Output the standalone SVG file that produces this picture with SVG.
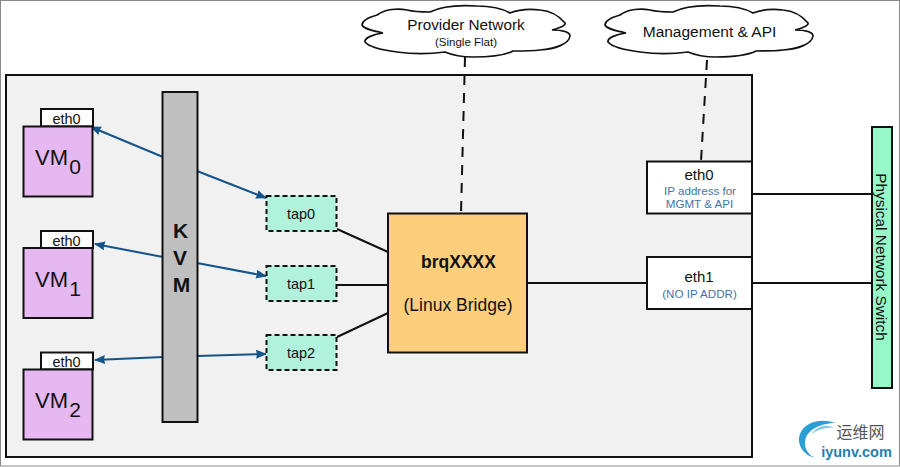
<svg xmlns="http://www.w3.org/2000/svg" width="900" height="467" viewBox="0 0 900 467">
<style>
text{font-family:"Liberation Sans",Arial,"Noto Sans CJK SC",sans-serif;text-anchor:middle;fill:#111}
.b{stroke:#111;stroke-width:2}
.vm{fill:#e5b8f2}
.eth{fill:#fff}
.tap{fill:#b0f2dc;stroke:#111;stroke-width:2;stroke-dasharray:5 3}
.l{stroke:#111;stroke-width:2;fill:none}
.d{stroke:#111;stroke-width:2;fill:none;stroke-dasharray:10 8}
.a{stroke:#14548a;stroke-width:2;fill:none}
.blue{fill:#3f73a8}
.cloud{fill:#fff;stroke:#111;stroke-width:1.7}
</style>
<defs>
<marker id="ar" viewBox="0 0 11 9" refX="10" refY="4.500" markerWidth="11" markerHeight="9" markerUnits="userSpaceOnUse" orient="auto-start-reverse"><path d="M0 0L11 4.500L0 9L1 4.500Z" fill="#14548a"/></marker>
<path id="cl" d="M377 15C385 9 398 8 407 10C415 12 424 12 430 12C442 6 462 5 477 6C490 6 503 9 510 13C520 9 532 9 540 10C552 11 560 17 565 23C566 26 556 29 552 30C562 30 570 32 570 36C569 44 555 49 540 50C532 51 522 51 513 51C503 56 488 57 473 57C460 57 452 55 445 52C430 54 412 54 397 52C382 50 369 47 365 42C364 38 374 34 383 33C373 31 364 29 362 25C362 20 370 17 377 15Z"/>
</defs>
<rect x="0.500" y="0.500" width="899" height="465.500" fill="#fff" stroke="#8a8a8a" stroke-width="1"/>
<rect id="host" x="6" y="75" width="746" height="382" fill="#f1f1f1" stroke="#111" stroke-width="2"/>
<g id="connectors">
<path class="d" d="M465 57L461 213"/>
<path class="d" d="M707 60L701 161"/>
<path class="l" d="M337 229L388 252M337 285H388M337 337L388 313M527 283H647M752 194H871M752 283H871"/>
<path class="a" marker-start="url(#ar)" d="M91 127L163 157"/>
<path class="a" marker-end="url(#ar)" d="M197 171L266 198"/>
<path class="a" marker-start="url(#ar)" d="M95 244L163 257"/>
<path class="a" marker-end="url(#ar)" d="M197 263L266 276"/>
<path class="a" marker-start="url(#ar)" d="M95 360L163 357"/>
<path class="a" marker-end="url(#ar)" d="M197 356L266 354"/>
</g>
<g id="cloud-provider">
<use href="#cl" class="cloud"/>
<text x="466" y="30" font-size="15.300">Provider Network</text>
<text x="466" y="46" font-size="11.500">(Single Flat)</text>
</g>
<g id="cloud-management">
<use href="#cl" class="cloud" x="243"/>
<text x="709.500" y="37" font-size="15.500">Management &amp; API</text>
</g>
<g id="vm0">
<rect class="eth b" x="41" y="109" width="52" height="17.500"/>
<rect class="vm b" x="23.500" y="126.500" width="69" height="70"/>
<text x="66.500" y="124" font-size="14.500">eth0</text>
<text x="51.500" y="165" font-size="22">VM</text><text x="75" y="174" font-size="21">0</text>
</g>
<g id="vm1">
<rect class="eth b" x="41" y="231" width="52" height="17"/>
<rect class="vm b" x="23.500" y="248" width="69" height="70"/>
<text x="66.500" y="245.500" font-size="14.500">eth0</text>
<text x="51.500" y="287" font-size="22">VM</text><text x="75" y="296" font-size="21">1</text>
</g>
<g id="vm2">
<rect class="eth b" x="41" y="352.500" width="52" height="17"/>
<rect class="vm b" x="23.500" y="369.500" width="69" height="70"/>
<text x="66.500" y="367" font-size="14.500">eth0</text>
<text x="51.500" y="408" font-size="22">VM</text><text x="75" y="417" font-size="21">2</text>
</g>
<g id="kvm">
<rect x="162.500" y="92" width="35" height="330" fill="#bfbfbf" class="b"/>
<text x="180.500" y="238" font-size="21" font-weight="700">K</text>
<text x="180" y="265" font-size="21" font-weight="700">V</text>
<text x="181.500" y="292" font-size="21" font-weight="700">M</text>
</g>
<g id="tap0"><rect class="tap" x="266.500" y="196" width="70" height="35"/><text x="301" y="219" font-size="14.500">tap0</text></g>
<g id="tap1"><rect class="tap" x="266.500" y="266" width="70" height="35"/><text x="301" y="289" font-size="14.500">tap1</text></g>
<g id="tap2"><rect class="tap" x="266.500" y="335" width="70" height="35"/><text x="301" y="358" font-size="14.500">tap2</text></g>
<g id="bridge">
<rect x="388" y="213.500" width="139" height="139" fill="#fdcf7c" class="b"/>
<text x="458.500" y="268" font-size="17.500" font-weight="700">brqXXXX</text>
<text x="458" y="311" font-size="17.500">(Linux Bridge)</text>
</g>
<g id="eth0">
<rect x="647" y="161.500" width="105" height="52" fill="#fff" class="b"/>
<text x="699" y="180" font-size="15">eth0</text>
<text class="blue" x="700" y="195" font-size="11.600">IP address for</text>
<text class="blue" x="699.500" y="208" font-size="11.600">MGMT &amp; API</text>
</g>
<g id="eth1">
<rect x="647" y="257" width="105" height="52" fill="#fff" class="b"/>
<text x="699" y="282" font-size="15">eth1</text>
<text class="blue" x="699.500" y="298" font-size="11.600">(NO IP ADDR)</text>
</g>
<g id="switch">
<rect x="872" y="127" width="20" height="261" fill="#96f7c8" class="b"/>
<text transform="translate(876 257) rotate(90)" font-size="15.400">Physical Network Switch</text>
</g>
<g id="watermark">
<path d="M815 458C796 453 793 431 811 423C819 420 827 420 835 423C823 423 805 429 805 443C805 450 809 455 815 458Z" fill="#2a9fd6"/>
<path d="M812 434C817 426 826 424 834 428C826 427 818 429 812 434Z" fill="#7cc7e8"/>
<text x="860.500" y="438" font-size="16" style="fill:#555">运维网</text>
<text x="856.500" y="457" font-size="14.500" font-weight="700" style="fill:#1f7fb0">iyunv.com</text>
</g>
</svg>
